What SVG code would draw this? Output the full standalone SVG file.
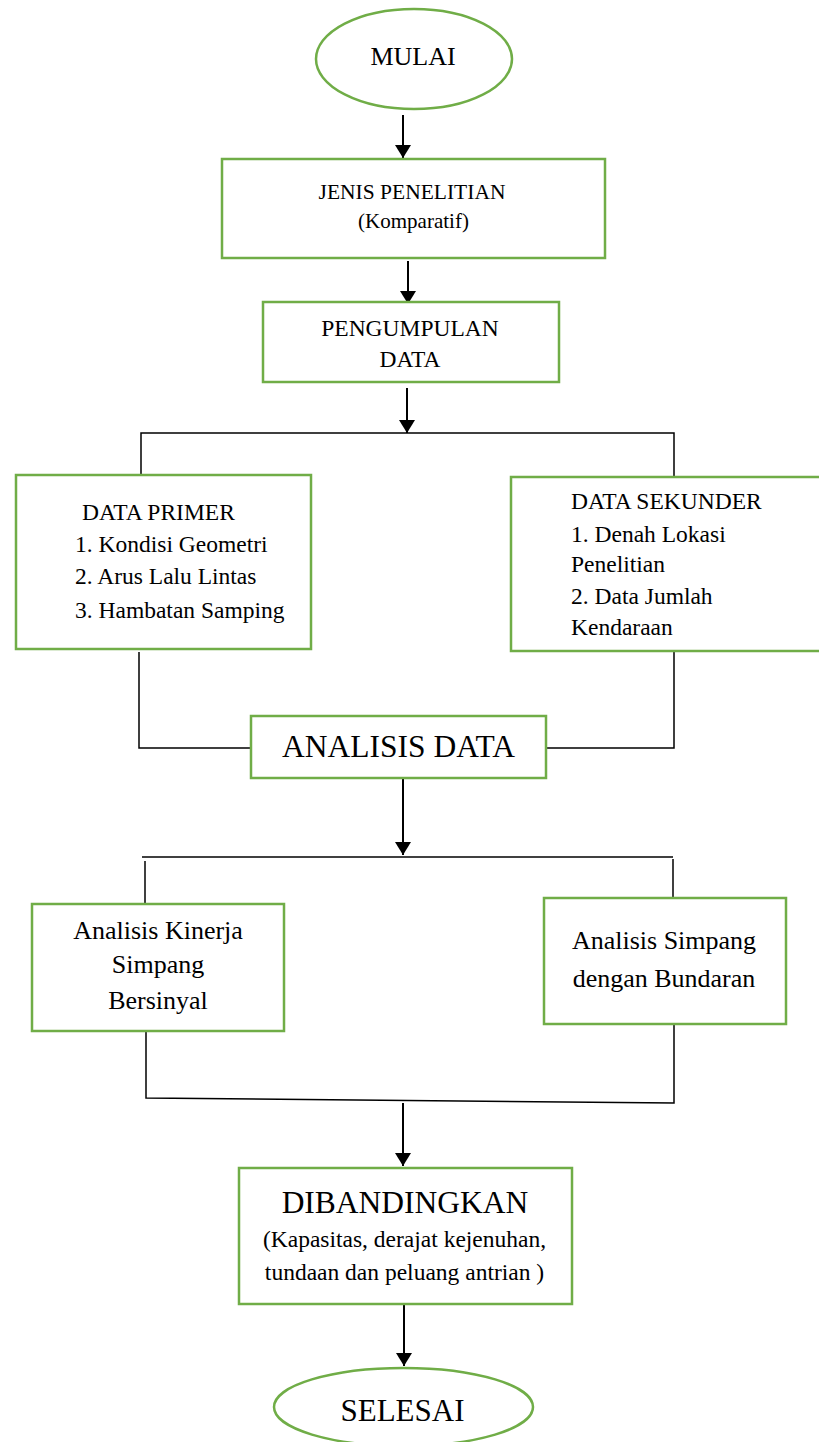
<svg xmlns="http://www.w3.org/2000/svg" width="819" height="1442" viewBox="0 0 819 1442">
<style>
.box{fill:#fff;stroke:#70AD47;stroke-width:2.5}
.t{font-family:"Liberation Serif","Times New Roman",serif;fill:#000}
.c{text-anchor:middle}
.ln{fill:none;stroke:#000;stroke-width:1.5}
.ar{fill:none;stroke:#000;stroke-width:2}
</style>
<defs>
<marker id="ah" viewBox="0 0 13 16" refX="13" refY="8" markerWidth="13" markerHeight="16" markerUnits="userSpaceOnUse" orient="auto">
<path d="M0,0 L13,8 L0,16 z" fill="#000"/>
</marker>
</defs>
<rect width="819" height="1442" fill="#fff"/>
<g id="connectors">
<line class="ar" x1="403" y1="115" x2="403" y2="158" marker-end="url(#ah)"/>
<line class="ar" x1="408" y1="261" x2="408" y2="304" marker-end="url(#ah)"/>
<line class="ar" x1="407" y1="388" x2="407" y2="433" marker-end="url(#ah)"/>
<polyline class="ln" points="141,474 141,433 674,433 674,477"/>
<polyline class="ln" points="139,652 139,748 252,748"/>
<polyline class="ln" points="674,651 674,748 546,748"/>
<line class="ar" x1="403" y1="779" x2="403" y2="855" marker-end="url(#ah)"/>
<line class="ln" x1="142" y1="857" x2="673" y2="857"/>
<line class="ln" x1="145" y1="861" x2="145" y2="906"/>
<line class="ln" x1="673" y1="859" x2="673" y2="898"/>
<polyline class="ln" points="146,1032 146,1098 674,1103 674,1024"/>
<line class="ar" x1="403" y1="1103" x2="403" y2="1166" marker-end="url(#ah)"/>
<line class="ar" x1="404" y1="1305" x2="404" y2="1366" marker-end="url(#ah)"/>
</g>
<g id="mulai">
<ellipse class="box" cx="414" cy="59" rx="98" ry="50"/>
<text class="t c" x="413" y="65" font-size="26">MULAI</text>
</g>
<g id="jenis">
<rect class="box" x="222" y="159" width="383" height="99"/>
<text class="t c" x="412" y="199" font-size="21.5">JENIS PENELITIAN</text>
<text class="t c" x="413.5" y="228" font-size="21">(Komparatif)</text>
</g>
<g id="pengumpulan">
<rect class="box" x="263" y="302" width="296" height="80"/>
<text class="t c" x="410" y="336" font-size="23.5">PENGUMPULAN</text>
<text class="t c" x="410" y="367" font-size="23.5">DATA</text>
</g>
<g id="primer">
<rect class="box" x="16" y="475" width="295" height="174"/>
<text class="t" x="82" y="520" font-size="23.5">DATA PRIMER</text>
<text class="t" x="75" y="552" font-size="23.5">1. Kondisi Geometri</text>
<text class="t" x="75" y="584" font-size="23.5">2. Arus Lalu Lintas</text>
<text class="t" x="75" y="618" font-size="23.5">3. Hambatan Samping</text>
</g>
<g id="sekunder">
<rect class="box" x="511" y="477" width="330" height="174"/>
<text class="t" x="571" y="509" font-size="23.5">DATA SEKUNDER</text>
<text class="t" x="571" y="542" font-size="23.5">1. Denah Lokasi</text>
<text class="t" x="571" y="572" font-size="23.5">Penelitian</text>
<text class="t" x="571" y="604" font-size="23.5">2. Data Jumlah</text>
<text class="t" x="571" y="635" font-size="23.5">Kendaraan</text>
</g>
<g id="analisis">
<rect class="box" x="251" y="716" width="295" height="62"/>
<text class="t c" x="398.5" y="757" font-size="31.5">ANALISIS DATA</text>
</g>
<g id="kinerja">
<rect class="box" x="32" y="904" width="252" height="127"/>
<text class="t c" x="158" y="939" font-size="26">Analisis Kinerja</text>
<text class="t c" x="158" y="973" font-size="26">Simpang</text>
<text class="t c" x="158" y="1009" font-size="26">Bersinyal</text>
</g>
<g id="bundaran">
<rect class="box" x="544" y="898" width="242" height="126"/>
<text class="t c" x="664" y="949" font-size="26">Analisis Simpang</text>
<text class="t c" x="664" y="987" font-size="26">dengan Bundaran</text>
</g>
<g id="dibandingkan">
<rect class="box" x="239" y="1168" width="333" height="136"/>
<text class="t c" x="405" y="1213" font-size="31.5">DIBANDINGKAN</text>
<text class="t c" x="404.5" y="1247" font-size="23.5">(Kapasitas, derajat kejenuhan,</text>
<text class="t c" x="404.5" y="1280" font-size="23.5">tundaan dan peluang antrian )</text>
</g>
<g id="selesai">
<ellipse class="box" cx="403.5" cy="1407" rx="129.5" ry="39"/>
<text class="t c" x="402.5" y="1421" font-size="31">SELESAI</text>
</g>
</svg>
